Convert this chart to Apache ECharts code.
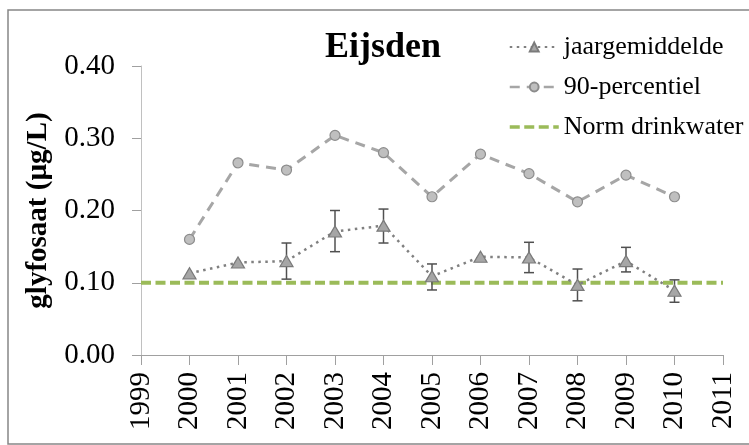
<!DOCTYPE html>
<html>
<head>
<meta charset="utf-8">
<script src="https://cdn.jsdelivr.net/npm/echarts@6/dist/echarts.min.js"></script>
<style>
  html, body { margin: 0; padding: 0; background: #fff; }
  #chart { width: 749px; height: 445px; }
</style>
</head>
<body>
<div id="chart"></div>
<script>
// Glyphosate at Eijsden: annual mean (with spread), 90th percentile and drinking-water norm
const years = [2000, 2001, 2002, 2003, 2004, 2005, 2006, 2007, 2008, 2009, 2010];
const jaargemiddelde = [0.113, 0.128, 0.130, 0.171, 0.179, 0.109, 0.136, 0.135, 0.097, 0.130, 0.089];
const foutOnder = [null, null, 0.105, 0.143, 0.155, 0.090, null, 0.114, 0.075, 0.115, 0.073];
const foutBoven = [null, null, 0.155, 0.200, 0.202, 0.126, null, 0.156, 0.119, 0.149, 0.104];
const percentiel90 = [0.160, 0.266, 0.256, 0.304, 0.280, 0.219, 0.278, 0.251, 0.212, 0.249, 0.219];
const normDrinkwater = 0.10;
const xRange = [1999, 2011];
const yTicks = [0.00, 0.10, 0.20, 0.30, 0.40];

const FONT = '"Liberation Serif", "Times New Roman", serif';

const meanData = years.map((y, i) => [y, jaargemiddelde[i]]);
const p90Data = years.map((y, i) => [y, percentiel90[i]]);
const normData = xRange.map(x => [x, normDrinkwater]);
const errData = years
  .map((y, i) => [y, foutOnder[i], foutBoven[i]])
  .filter(d => d[1] !== null);

const chart = echarts.init(document.getElementById('chart'), null, { renderer: 'canvas' });

chart.setOption({
  animation: false,
  backgroundColor: '#ffffff',
  textStyle: { fontFamily: FONT },
  title: {
    text: 'Eijsden',
    left: 320,
    top: 25,
    textStyle: { fontFamily: FONT, fontSize: 36, fontWeight: 'bold', color: '#000' }
  },
  legend: {
    orient: 'vertical',
    left: 503,
    top: 29,
    itemWidth: 49,
    itemHeight: 11,
    itemGap: 14,
    data: [
      { name: 'jaargemiddelde', lineStyle: { width: 2 } },
      { name: '90-percentiel', lineStyle: { width: 2.5 } },
      // plain dashed line in the legend, no marker
      { name: 'Norm drinkwater', itemStyle: { opacity: 0 }, lineStyle: { width: 3.5 } }
    ],
    textStyle: { fontFamily: FONT, fontSize: 26, color: '#000', lineHeight: 26 }
  },
  grid: { left: 141, right: 26, top: 66, bottom: 90, containLabel: false },
  xAxis: {
    type: 'value',
    min: xRange[0],
    max: xRange[1],
    interval: 1,
    axisLine: { lineStyle: { color: '#a0a0a0', width: 1 } },
    axisTick: { show: true, inside: false, length: 10, lineStyle: { color: '#a0a0a0' } },
    splitLine: { show: false },
    axisLabel: {
      rotate: 90,
      margin: 17,
      fontFamily: FONT,
      fontSize: 29,
      color: '#000',
      formatter: v => String(v)
    }
  },
  yAxis: {
    type: 'value',
    min: yTicks[0],
    max: yTicks[yTicks.length - 1],
    interval: 0.1,
    name: 'glyfosaat (µg/L)',
    nameLocation: 'middle',
    nameRotate: 90,
    nameGap: 82,
    nameTextStyle: { fontFamily: FONT, fontSize: 29, fontWeight: 'bold', color: '#000' },
    axisLine: { show: true, lineStyle: { color: '#c0c0c0', width: 1 } },
    axisTick: { show: true, inside: false, length: 9, lineStyle: { color: '#a0a0a0' } },
    splitLine: { show: false },
    axisLabel: {
      margin: 26,
      fontFamily: FONT,
      fontSize: 29,
      color: '#000',
      formatter: v => v.toFixed(2)
    }
  },
  graphic: [{
    type: 'rect',
    shape: { x: 8, y: 10, width: 800, height: 434 },
    style: { fill: 'none', stroke: '#868686', lineWidth: 1.5 },
    silent: true,
    z: -10
  }],
  series: [
    {
      name: 'Norm drinkwater',
      type: 'line',
      data: normData,
      showSymbol: false,
      symbol: 'none',
      lineStyle: { color: '#9bbb59', width: 4, type: [10, 4.5] },
      itemStyle: { color: '#9bbb59' },
      z: 2
    },
    {
      name: '90-percentiel',
      type: 'line',
      data: p90Data,
      symbol: 'circle',
      symbolSize: 10,
      lineStyle: { color: '#a6a6a6', width: 3, type: [10, 7] },
      itemStyle: { color: '#bfbfbf', borderColor: '#8c8c8c', borderWidth: 1.2 },
      z: 3
    },
    {
      name: 'jaargemiddelde',
      type: 'line',
      data: meanData,
      symbol: 'triangle',
      symbolSize: [13, 11],
      lineStyle: { color: '#808080', width: 2.5, type: [2.5, 4.5] },
      itemStyle: { color: '#a6a6a6', borderColor: '#7a7a7a', borderWidth: 1.2 },
      z: 5
    },
    {
      name: 'spreiding',
      type: 'custom',
      data: errData,
      encode: { x: 0, y: [1, 2] },
      z: 4,
      renderItem: function (params, api) {
        const x = api.value(0);
        const lo = api.coord([x, api.value(1)]);
        const hi = api.coord([x, api.value(2)]);
        const half = 5;
        const style = { stroke: '#505050', lineWidth: 1.5 };
        return {
          type: 'group',
          children: [
            { type: 'line', shape: { x1: lo[0], y1: lo[1], x2: hi[0], y2: hi[1] }, style },
            { type: 'line', shape: { x1: lo[0] - half, y1: lo[1], x2: lo[0] + half, y2: lo[1] }, style },
            { type: 'line', shape: { x1: hi[0] - half, y1: hi[1], x2: hi[0] + half, y2: hi[1] }, style }
          ]
        };
      }
    }
  ]
});
</script>
</body>
</html>
